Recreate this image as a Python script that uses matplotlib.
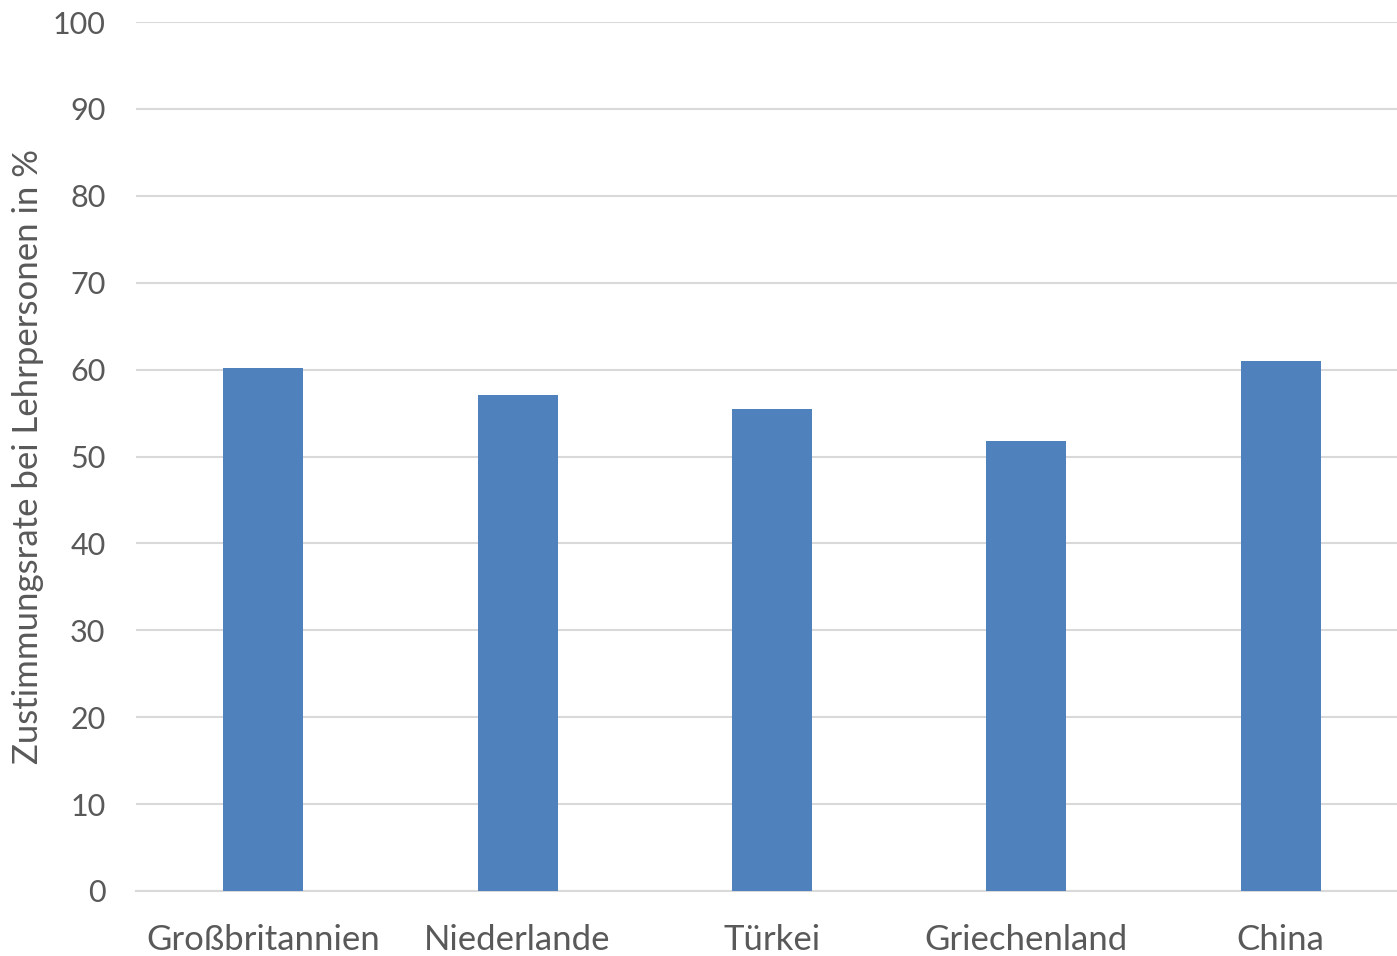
import matplotlib
matplotlib.use("Agg")
import matplotlib.pyplot as plt

categories = ["Großbritannien", "Niederlande", "Türkei", "Griechenland", "China"]
values = [60.2, 57.1, 55.5, 51.8, 61.0]
yticks = [0, 10, 20, 30, 40, 50, 60, 70, 80, 90, 100]
ylabel = "Zustimmungsrate bei Lehrpersonen in %"

plt.rcParams['font.family'] = ['Lato', 'DejaVu Sans']
txt = '#595959'

fig = plt.figure(figsize=(13.97, 9.56), dpi=100)
ax = fig.add_axes([136/1397, 1-891/956, (1408-136)/1397, (891-22)/956])

x = list(range(len(categories)))
ax.bar(x, values, width=0.314, color='#4F81BD', zorder=3)
ax.set_xlim(-0.5, len(categories)-0.5)
ax.set_ylim(0, 100)
ax.set_yticks(yticks)
ax.set_yticklabels([str(t) for t in yticks])
ax.set_xticks(x)
ax.set_xticklabels(categories)
ax.grid(axis='y', color='#D9D9D9', linewidth=1.5, zorder=0)
for s in ['top', 'right', 'left']:
    ax.spines[s].set_visible(False)
ax.spines['bottom'].set_color('#D9D9D9')
ax.spines['bottom'].set_linewidth(1.5)
ax.tick_params(axis='y', length=0, labelsize=22, colors=txt, pad=22)
ax.tick_params(axis='x', length=0, labelsize=25, colors=txt, pad=24)
fig.text(28/1397, 1-457/956, ylabel, rotation=90, fontsize=25, color=txt,
         ha='center', va='center')

fig.savefig("out.png", dpi=100)
